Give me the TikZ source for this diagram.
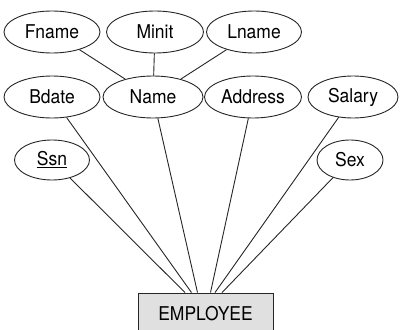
\documentclass[tikz,border=0pt]{standalone}
\usepackage{fontspec}
\setmainfont[FakeStretch=0.92]{TeX Gyre Heros}
\usetikzlibrary{shapes.geometric}

\begin{document}
\begin{tikzpicture}[x=1pt,y=-1pt,line width=0.9pt,
    attr/.style={draw=black!85, ellipse, inner sep=0pt, minimum height=42pt, font=\fontsize{19}{19}\selectfont},
    entity/.style={draw=black!85, fill=black!12, minimum width=135pt, minimum height=42pt, font=\fontsize{19}{19}\selectfont},
    link/.style={draw=black!85}]
    \useasboundingbox (0,0) rectangle (401,329);
    % attributes
    \node[attr, minimum width=96pt] (fname) at (52,32) {Fname};
    \node[attr, minimum width=97pt] (minit) at (155,32) {Minit};
    \node[attr, minimum width=95pt] (lname) at (254,32) {Lname};
    \node[attr, minimum width=96pt] (bdate) at (52,97) {Bdate};
    \node[attr, minimum width=100pt] (name) at (153,97) {Name};
    \node[attr, minimum width=97pt] (address) at (253,97) {Address};
    \node[attr, minimum width=90pt] (salary) at (353,97) {Salary};
    \node[attr, minimum width=75pt, minimum height=40pt] (ssn) at (52,160) {\underline{Ssn}};
    \node[attr, minimum width=66pt, minimum height=40pt] (sex) at (350,160) {Sex};
    % entity
    \node[entity] (emp) at (205.5,314) {EMPLOYEE};
    % links
    \draw[link] (fname) -- (name);
    \draw[link] (minit) -- (name);
    \draw[link] (lname) -- (name);
    \draw[link] (ssn) -- ([xshift=-20.5pt]emp.north);
    \draw[link] (bdate) -- ([xshift=-14pt]emp.north);
    \draw[link] (name) -- ([xshift=-8pt]emp.north);
    \draw[link] (address) -- ([xshift=5pt]emp.north);
    \draw[link] (salary) -- ([xshift=9.5pt]emp.north);
    \draw[link] (sex) -- ([xshift=16.5pt]emp.north);
\end{tikzpicture}
\end{document}
